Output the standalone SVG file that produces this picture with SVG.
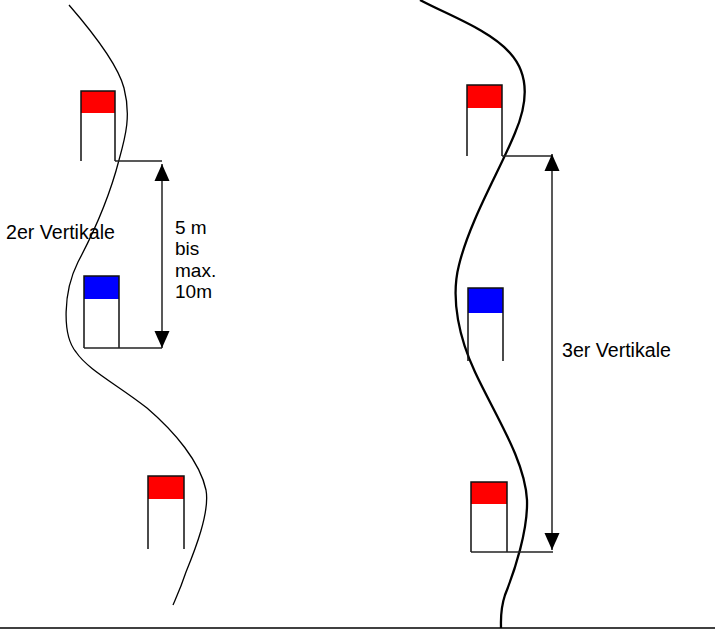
<svg xmlns="http://www.w3.org/2000/svg" width="715" height="629" viewBox="0 0 715 629">
<style>
.pole{stroke:#111;stroke-width:1.5;fill:none}
.red{fill:#ff0000}
.blue{fill:#0000ff}
.dim{stroke:#222;stroke-width:1.5;fill:none}
.txt{font-family:"Liberation Sans",Arial,sans-serif;font-size:19px;fill:#000}
.big{font-size:19.6px}
.course-thin{stroke:#000;stroke-width:1.3;fill:none}
.course-thick{stroke:#000;stroke-width:2.3;fill:none}
</style>
<defs>
<marker id="ah" viewBox="0 -8 18 16" refX="17" refY="0" markerWidth="18" markerHeight="16" markerUnits="userSpaceOnUse" orient="auto-start-reverse">
<path d="M0,-7.5 L17,0 L0,7.5 Z" fill="#000"/>
</marker>
</defs>
<rect width="715" height="629" fill="#fff"/>
<g id="course-left">
<path class="course-thin" d="M69,5 C95,35 118,65 124,88 C131,115 126,135 119,160 C110,195 95,230 78,262 C63,292 62,335 76,352 C88,370 118,385 147,408 C175,432 200,462 206,490 C210,512 195,550 186,572 C180,590 175,600 173,605"/>
</g>
<g id="course-right">
<path class="course-thick" d="M420,0 C448,15 490,30 510,53 C530,75 527,105 515,133 C500,170 470,220 459,265 C450,300 460,340 475,372 C495,415 525,460 527,500 C528,530 515,570 505,595 C500,610 501,620 501,628"/>
</g>
<g id="flag-l-top">
<rect class="red" x="81" y="91" width="34" height="22"/>
<path class="pole" d="M81,161 V91 H115 V161"/>
</g>
<g id="flag-l-blue">
<rect class="blue" x="84" y="276" width="35" height="23"/>
<path class="pole" d="M84,348 V276 H119 V348"/>
</g>
<g id="flag-l-bottom">
<rect class="red" x="148" y="476" width="36" height="23"/>
<path class="pole" d="M148,549 V476 H184 V549"/>
</g>
<g id="flag-r-top">
<rect class="red" x="467" y="85" width="35" height="23"/>
<path class="pole" d="M467,156 V85 H502 V156"/>
</g>
<g id="flag-r-blue">
<rect class="blue" x="468" y="288" width="35" height="25"/>
<path class="pole" d="M468,361 V288 H503 V361"/>
</g>
<g id="flag-r-bottom">
<rect class="red" x="471" y="482" width="36" height="22"/>
<path class="pole" d="M471,552 V482 H507 V552"/>
</g>
<g id="connectors">
<path class="dim" d="M115,161 H162"/>
<path class="dim" d="M84,348 H162"/>
<line class="dim" x1="162" y1="164" x2="162" y2="348" marker-start="url(#ah)" marker-end="url(#ah)"/>
<path class="dim" d="M502,156 H552"/>
<path class="dim" d="M471,552 H553"/>
<line class="dim" x1="552" y1="154" x2="552" y2="550" marker-start="url(#ah)" marker-end="url(#ah)"/>
</g>
<g id="labels">
<text class="txt big" x="6" y="239">2er Vertikale</text>
<text class="txt" x="175" y="234">5 m</text>
<text class="txt" x="175" y="255">bis</text>
<text class="txt" x="175" y="277">max.</text>
<text class="txt" x="175" y="298">10m</text>
<text class="txt big" x="562" y="357">3er Vertikale</text>
</g>
<g id="baseline">
<line x1="0" y1="628" x2="715" y2="628" stroke="#000" stroke-width="1.6"/>
</g>
</svg>
